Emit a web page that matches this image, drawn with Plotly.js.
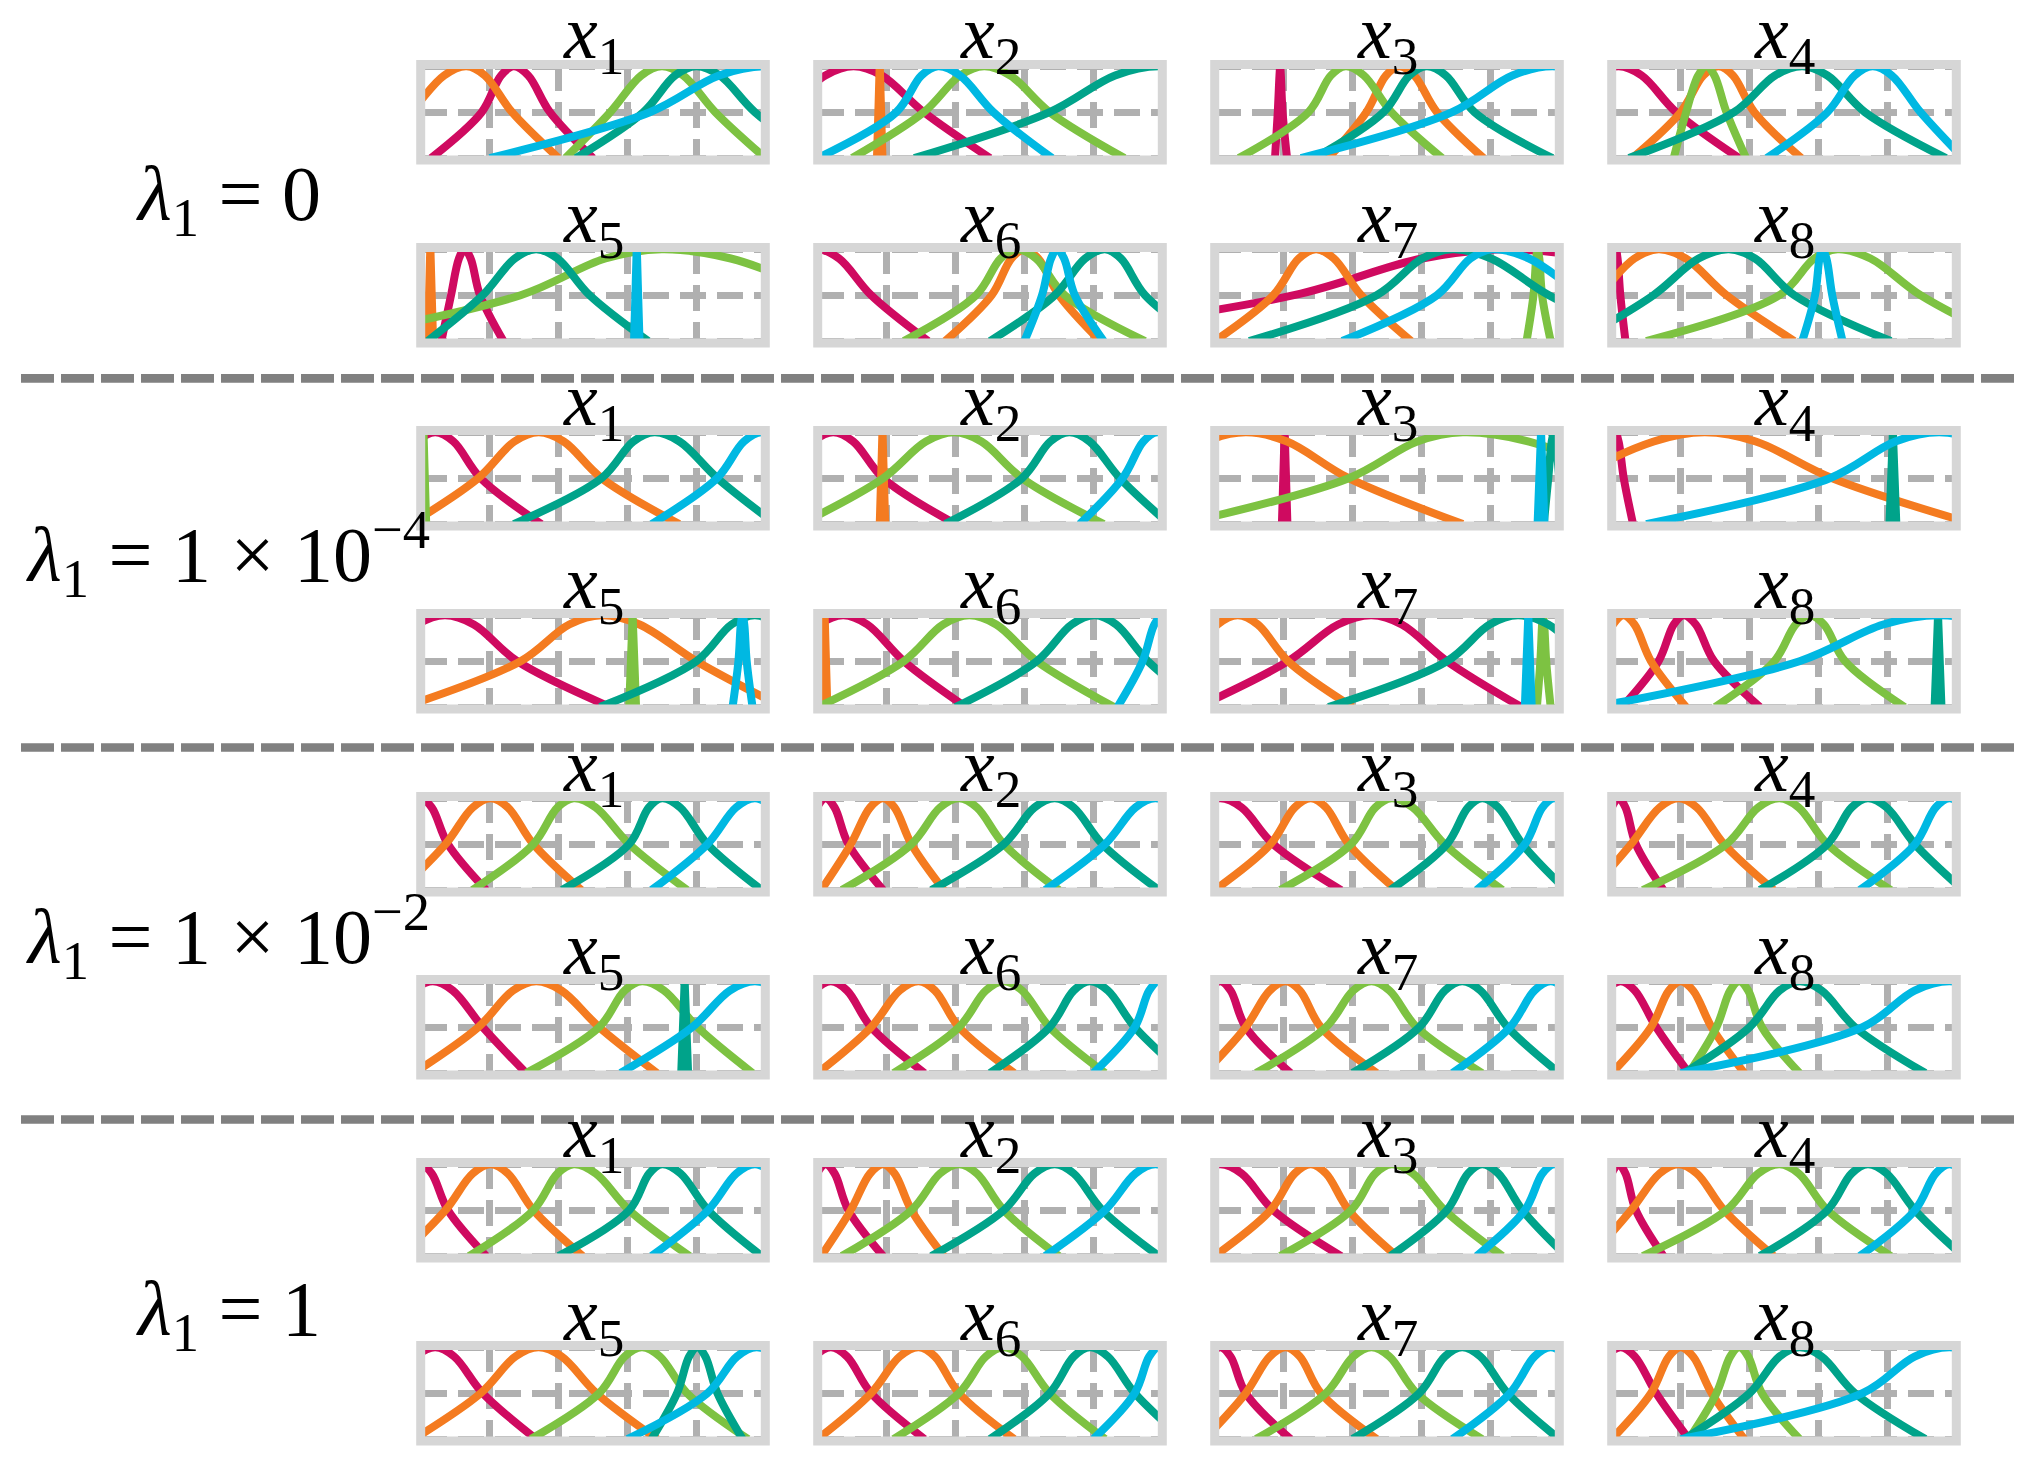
<!DOCTYPE html>
<html>
<head>
<meta charset="utf-8">
<script src="https://cdn.plot.ly/plotly-3.0.1.min.js"></script>
<style>
  html, body { margin: 0; padding: 0; background: #fff; }
  #chart { width: 2042px; height: 1474px; }
</style>
</head>
<body>
<div id="chart"></div>
<script>
// ---------- data ----------
// feature names shown above each panel (x1..x8)
const FEATURES = ['1', '2', '3', '4', '5', '6', '7', '8'];

// one label per block of 8 panels
const GROUP_LABELS = [
  '<i>λ</i><sub>1</sub> = 0',
  '<i>λ</i><sub>1</sub> = 1 × 10<sup>−4</sup>',
  '<i>λ</i><sub>1</sub> = 1 × 10<sup>−2</sup>',
  '<i>λ</i><sub>1</sub> = 1'
];

// membership curves in drawing order: magenta, orange, green, teal, cyan
const CURVE_COLORS = ['#cf0a60', '#f47b20', '#7dc242', '#00a38a', '#00b8e2'];

// each curve is read as the x where it sits at these membership levels
// (left foot, left half, left shoulder, peak, right shoulder, right half, right foot)
const KNOT_LEVELS = [0, 0.5, 0.9, 1, 0.9, 0.5, 0];

// lambda_1 = 0
const lambda0 = [
  [[0.03, 0.177, 0.233, 0.27, 0.312, 0.375, 0.50], [-0.17, -0.03, 0.068, 0.133, 0.186, 0.265, 0.40], [0.42, 0.55, 0.64, 0.70, 0.762, 0.855, 1.0], [0.45, 0.646, 0.738, 0.80, 0.868, 0.97, 1.15], [0.2, 0.665, 0.866, 1.0, 1.134, 1.335, 1.83]],
  [[-0.3, -0.10, 0.022, 0.104, 0.186, 0.308, 0.50], [0.172, 0.176, 0.179, 0.18, 0.181, 0.184, 0.188], [0.10, 0.308, 0.413, 0.483, 0.559, 0.673, 0.89], [0.28, 0.673, 0.863, 0.99, 1.118, 1.31, 1.7], [0.0, 0.228, 0.301, 0.349, 0.413, 0.51, 0.68]],
  [[0.175, 0.183, 0.188, 0.19, 0.192, 0.197, 0.21], [0.33, 0.44, 0.497, 0.535, 0.579, 0.645, 0.78], [0.07, 0.272, 0.337, 0.38, 0.433, 0.513, 0.66], [0.29, 0.49, 0.565, 0.615, 0.671, 0.754, 0.98], [0.25, 0.689, 0.864, 0.98, 1.096, 1.27, 1.76]],
  [[-0.33, -0.15, -0.048, 0.02, 0.087, 0.187, 0.37], [0.06, 0.2, 0.266, 0.31, 0.352, 0.414, 0.55], [0.18, 0.216, 0.251, 0.275, 0.298, 0.333, 0.39], [0.05, 0.355, 0.474, 0.553, 0.626, 0.735, 0.97], [0.45, 0.626, 0.705, 0.757, 0.813, 0.896, 1.02]],
  [[0.06, 0.088, 0.111, 0.127, 0.145, 0.172, 0.24], [0.02, 0.024, 0.027, 0.028, 0.029, 0.032, 0.036], [-0.3, 0.29, 0.536, 0.70, 0.90, 1.2, 1.7], [0.02, 0.18, 0.273, 0.335, 0.397, 0.49, 0.66], [0.619, 0.623, 0.626, 0.627, 0.628, 0.631, 0.635]],
  [[-0.32, -0.155, -0.062, 0.0, 0.062, 0.155, 0.32], [0.37, 0.505, 0.562, 0.60, 0.64, 0.70, 0.82], [0.25, 0.46, 0.531, 0.578, 0.634, 0.717, 0.95], [0.5, 0.688, 0.776, 0.834, 0.88, 0.95, 1.12], [0.60, 0.651, 0.677, 0.695, 0.715, 0.746, 0.83]],
  [[-0.6, 0.23, 0.602, 0.85, 1.098, 1.47, 2.3], [0.0, 0.17, 0.244, 0.294, 0.346, 0.425, 0.57], [0.905, 0.925, 0.933, 0.937, 0.942, 0.95, 0.975], [0.1, 0.47, 0.602, 0.69, 0.802, 0.97, 1.25], [0.37, 0.645, 0.742, 0.806, 0.912, 1.07, 1.3]],
  [[-0.02, 0.0, 0.008, 0.012, 0.017, 0.025, 0.04], [-0.2, -0.04, 0.066, 0.136, 0.215, 0.333, 0.53], [0.1, 0.487, 0.588, 0.655, 0.751, 0.896, 1.15], [-0.1, 0.121, 0.252, 0.34, 0.416, 0.53, 0.81], [0.553, 0.59, 0.603, 0.611, 0.623, 0.64, 0.67]]
];

// lambda_1 = 1e-4
const lambda1e4 = [
  [[-0.27, -0.09, -0.011, 0.042, 0.095, 0.174, 0.35], [-0.03, 0.167, 0.272, 0.342, 0.415, 0.525, 0.75], [0.0, 0.004, 0.007, 0.008, 0.009, 0.012, 0.016], [0.27, 0.525, 0.617, 0.678, 0.751, 0.861, 1.03], [0.67, 0.86, 0.938, 0.99, 1.042, 1.12, 1.3]],
  [[-0.3, -0.1, -0.013, 0.045, 0.103, 0.19, 0.40], [0.18, 0.184, 0.187, 0.188, 0.189, 0.192, 0.196], [-0.05, 0.19, 0.314, 0.396, 0.475, 0.593, 0.83], [0.37, 0.593, 0.675, 0.73, 0.789, 0.877, 1.02], [0.76, 0.885, 0.945, 0.985, 1.031, 1.1, 1.25]],
  [[0.195, 0.199, 0.202, 0.203, 0.204, 0.207, 0.211], [-0.5, -0.2, -0.026, 0.09, 0.21, 0.389, 0.72], [-0.1, 0.389, 0.588, 0.72, 0.912, 1.2, 1.6], [0.955, 0.968, 0.978, 0.985, 0.99, 1.0, 1.015], [0.937, 0.942, 0.946, 0.947, 0.948, 0.952, 0.957]],
  [[-0.06, -0.02, -0.002, 0.01, 0.02, 0.035, 0.062], [-0.25, -0.1, 0.122, 0.27, 0.418, 0.64, 1.05], [], [0.806, 0.811, 0.815, 0.816, 0.817, 0.821, 0.826], [0.1, 0.633, 0.823, 0.95, 1.077, 1.27, 1.8]],
  [[-0.3, -0.13, -0.01, 0.07, 0.154, 0.28, 0.55], [-0.05, 0.29, 0.431, 0.525, 0.635, 0.80, 1.05], [0.605, 0.61, 0.614, 0.615, 0.616, 0.62, 0.625], [0.52, 0.80, 0.902, 0.97, 1.034, 1.13, 1.4], [0.905, 0.922, 0.929, 0.934, 0.939, 0.946, 0.963]],
  [[-0.25, -0.1, 0.004, 0.074, 0.144, 0.25, 0.43], [0.012, 0.016, 0.019, 0.02, 0.021, 0.024, 0.028], [0.0, 0.25, 0.364, 0.44, 0.518, 0.636, 0.86], [0.4, 0.636, 0.737, 0.804, 0.866, 0.958, 1.12], [0.87, 0.943, 0.977, 1.0, 1.024, 1.06, 1.13]],
  [[-0.05, 0.213, 0.358, 0.455, 0.543, 0.674, 0.89], [-0.2, -0.08, 0.008, 0.067, 0.125, 0.213, 0.40], [0.935, 0.945, 0.95, 0.952, 0.956, 0.962, 0.975], [0.33, 0.674, 0.798, 0.88, 0.968, 1.1, 1.35], [0.9, 0.905, 0.909, 0.91, 0.911, 0.915, 0.92]],
  [[0.03, 0.136, 0.18, 0.209, 0.244, 0.297, 0.43], [-0.1, -0.04, 0.004, 0.034, 0.066, 0.114, 0.216], [0.30, 0.472, 0.534, 0.575, 0.616, 0.677, 0.85], [0.937, 0.942, 0.946, 0.947, 0.948, 0.952, 0.957], [-0.05, 0.545, 0.788, 0.95, 1.11, 1.35, 2.0]]
];

// lambda_1 = 1e-2
const lambda1e2 = [
  [[-0.19, -0.08, -0.032, 0.0, 0.032, 0.079, 0.19], [-0.06, 0.072, 0.151, 0.203, 0.253, 0.327, 0.466], [0.15, 0.327, 0.397, 0.444, 0.508, 0.605, 0.773], [0.41, 0.605, 0.662, 0.70, 0.753, 0.832, 0.99], [0.67, 0.832, 0.915, 0.97, 1.022, 1.1, 1.27]],
  [[-0.14, -0.04, -0.002, 0.023, 0.049, 0.089, 0.19], [0.01, 0.096, 0.152, 0.19, 0.223, 0.272, 0.366], [0.07, 0.272, 0.355, 0.41, 0.462, 0.54, 0.70], [0.33, 0.54, 0.629, 0.688, 0.743, 0.826, 0.99], [0.66, 0.834, 0.922, 0.98, 1.04, 1.13, 1.3]],
  [[-0.3, -0.14, -0.046, 0.016, 0.078, 0.17, 0.367], [0.0, 0.162, 0.232, 0.279, 0.323, 0.389, 0.528], [0.19, 0.396, 0.466, 0.513, 0.575, 0.667, 0.835], [0.51, 0.674, 0.735, 0.776, 0.823, 0.893, 1.02], [0.76, 0.90, 0.951, 0.985, 1.019, 1.07, 1.2]],
  [[-0.11, -0.03, 0.0, 0.02, 0.04, 0.07, 0.15], [-0.06, 0.056, 0.139, 0.194, 0.247, 0.326, 0.47], [0.09, 0.333, 0.425, 0.487, 0.543, 0.626, 0.81], [0.43, 0.626, 0.696, 0.743, 0.798, 0.88, 1.02], [0.72, 0.88, 0.94, 0.98, 1.02, 1.08, 1.24]],
  [[-0.24, -0.11, -0.023, 0.035, 0.093, 0.18, 0.306], [-0.02, 0.167, 0.268, 0.335, 0.408, 0.518, 0.686], [0.306, 0.518, 0.592, 0.642, 0.706, 0.803, 0.963], [0.756, 0.761, 0.765, 0.766, 0.767, 0.771, 0.776], [0.58, 0.788, 0.897, 0.97, 1.042, 1.15, 1.36]],
  [[-0.23, -0.08, -0.009, 0.038, 0.085, 0.155, 0.31], [0.0, 0.155, 0.238, 0.293, 0.34, 0.41, 0.57], [0.22, 0.41, 0.488, 0.54, 0.593, 0.673, 0.834], [0.5, 0.673, 0.743, 0.79, 0.842, 0.92, 1.06], [0.80, 0.92, 0.962, 0.99, 1.018, 1.06, 1.18]],
  [[-0.19, -0.06, -0.014, 0.016, 0.046, 0.09, 0.22], [-0.03, 0.09, 0.16, 0.206, 0.247, 0.308, 0.47], [0.12, 0.323, 0.402, 0.455, 0.507, 0.586, 0.776], [0.4, 0.594, 0.668, 0.718, 0.771, 0.85, 1.0], [0.69, 0.857, 0.928, 0.975, 1.021, 1.09, 1.26]],
  [[-0.17, -0.08, -0.016, 0.026, 0.067, 0.129, 0.224], [0.0, 0.114, 0.166, 0.20, 0.236, 0.29, 0.385], [0.224, 0.304, 0.344, 0.37, 0.396, 0.436, 0.545], [0.21, 0.40, 0.487, 0.545, 0.609, 0.706, 0.91], [0.2, 0.728, 0.879, 0.98, 1.08, 1.23, 1.76]]
];

// lambda_1 = 1
const lambda1 = [
  [[-0.19, -0.08, -0.032, 0.0, 0.032, 0.079, 0.19], [-0.06, 0.072, 0.151, 0.203, 0.253, 0.327, 0.47], [0.14, 0.327, 0.397, 0.444, 0.508, 0.605, 0.78], [0.40, 0.605, 0.663, 0.70, 0.754, 0.834, 0.99], [0.67, 0.834, 0.916, 0.97, 1.022, 1.1, 1.27]],
  [[-0.14, -0.04, -0.002, 0.023, 0.049, 0.089, 0.19], [0.01, 0.096, 0.152, 0.19, 0.223, 0.272, 0.366], [0.07, 0.272, 0.355, 0.41, 0.462, 0.54, 0.70], [0.33, 0.54, 0.629, 0.688, 0.743, 0.826, 0.99], [0.66, 0.834, 0.922, 0.98, 1.04, 1.13, 1.3]],
  [[-0.3, -0.14, -0.046, 0.016, 0.078, 0.17, 0.367], [0.0, 0.162, 0.232, 0.279, 0.323, 0.389, 0.528], [0.19, 0.396, 0.466, 0.513, 0.575, 0.667, 0.835], [0.51, 0.674, 0.735, 0.776, 0.823, 0.893, 1.02], [0.76, 0.90, 0.951, 0.985, 1.019, 1.07, 1.2]],
  [[-0.11, -0.03, 0.0, 0.02, 0.04, 0.07, 0.15], [-0.06, 0.056, 0.139, 0.194, 0.247, 0.326, 0.47], [0.09, 0.333, 0.425, 0.487, 0.543, 0.626, 0.81], [0.43, 0.626, 0.696, 0.743, 0.798, 0.88, 1.02], [0.72, 0.88, 0.94, 0.98, 1.02, 1.08, 1.24]],
  [[-0.23, -0.1, -0.015, 0.042, 0.097, 0.18, 0.335], [-0.02, 0.174, 0.275, 0.342, 0.409, 0.51, 0.686], [0.32, 0.518, 0.592, 0.642, 0.694, 0.773, 0.95], [0.67, 0.744, 0.779, 0.803, 0.826, 0.861, 0.934], [0.6, 0.832, 0.918, 0.975, 1.033, 1.12, 1.33]],
  [[-0.23, -0.08, -0.009, 0.038, 0.085, 0.155, 0.31], [0.0, 0.155, 0.238, 0.293, 0.34, 0.41, 0.57], [0.22, 0.41, 0.488, 0.54, 0.593, 0.673, 0.834], [0.5, 0.673, 0.743, 0.79, 0.842, 0.92, 1.06], [0.80, 0.92, 0.962, 0.99, 1.018, 1.06, 1.18]],
  [[-0.19, -0.06, -0.014, 0.016, 0.046, 0.09, 0.22], [-0.03, 0.09, 0.16, 0.206, 0.247, 0.308, 0.47], [0.12, 0.323, 0.402, 0.455, 0.507, 0.586, 0.776], [0.4, 0.594, 0.668, 0.718, 0.771, 0.85, 1.0], [0.69, 0.857, 0.928, 0.975, 1.021, 1.09, 1.26]],
  [[-0.17, -0.08, -0.016, 0.026, 0.067, 0.129, 0.224], [0.0, 0.114, 0.166, 0.20, 0.236, 0.29, 0.385], [0.224, 0.304, 0.344, 0.37, 0.396, 0.436, 0.545], [0.21, 0.40, 0.487, 0.545, 0.609, 0.706, 0.91], [0.2, 0.728, 0.879, 0.98, 1.08, 1.23, 1.76]]
];

const GROUPS = [lambda0, lambda1e4, lambda1e2, lambda1];

// ---------- geometry (pixels in the 2042 x 1474 page) ----------
const W = 2042, H = 1474;
const COL_LEFT = 420.7, COL_STEP = 397, AX_W = 344.6;
const ROW_TOP = 64.5, ROW_STEP = 183, AX_H = 95.4;
const LABEL_X = 228;
const LABEL_BASE = [222, 583, 965, 1337];     // baseline of each left label
const SEPARATORS = [378.3, 747.5, 1119.5];     // dashed rules between blocks
const FONT = 'Liberation Serif, Times New Roman, serif';

const px2x = v => v / W;
const px2y = v => 1 - v / H;

const data = [];
const layout = {
  width: W, height: H,
  margin: { l: 0, r: 0, t: 0, b: 0 },
  paper_bgcolor: '#ffffff',
  plot_bgcolor: '#ffffff',
  showlegend: false,
  shapes: [],
  annotations: []
};

GROUPS.forEach((panels, g) => {
  panels.forEach((curves, p) => {
    const k = g * 8 + p + 1;
    const sfx = k === 1 ? '' : String(k);
    const row = g * 2 + (p >= 4 ? 1 : 0);
    const col = p % 4;
    const left = COL_LEFT + col * COL_STEP;
    const top = ROW_TOP + row * ROW_STEP;

    layout['xaxis' + sfx] = {
      domain: [px2x(left), px2x(left + AX_W)],
      anchor: 'y' + sfx,
      range: [0, 1],
      tickvals: [0.2, 0.4, 0.6, 0.8],
      showticklabels: false, ticks: '',
      showgrid: true, gridcolor: '#b0b0b0', gridwidth: 7, griddash: '26px,11px',
      zeroline: false, showline: false, fixedrange: true
    };
    layout['yaxis' + sfx] = {
      domain: [px2y(top + AX_H), px2y(top)],
      anchor: 'x' + sfx,
      range: [-0.02, 1.02],
      tickvals: [0, 0.5, 1],
      showticklabels: false, ticks: '',
      showgrid: true, gridcolor: '#b0b0b0', gridwidth: 7, griddash: '26px,11px',
      zeroline: false, showline: false, fixedrange: true
    };

    curves.forEach((knots, c) => {
      if (!knots.length) return;
      data.push({
        type: 'scatter', mode: 'lines',
        x: knots, y: KNOT_LEVELS,
        xaxis: 'x' + sfx, yaxis: 'y' + sfx,
        line: { color: CURVE_COLORS[c], width: 8, shape: 'spline', smoothing: 1 },
        hoverinfo: 'skip', showlegend: false
      });
    });

    // thick light-grey frame over the curves
    layout.shapes.push({
      type: 'rect', xref: 'x' + sfx + ' domain', yref: 'y' + sfx + ' domain',
      x0: 0, x1: 1, y0: 0, y1: 1,
      line: { color: '#d6d6d6', width: 9 }, fillcolor: 'rgba(0,0,0,0)', layer: 'above'
    });

    layout.annotations.push({
      xref: 'paper', yref: 'paper',
      x: px2x(left + AX_W / 2), y: px2y(top - 3.5 + 27.5),
      xanchor: 'center', yanchor: 'bottom', showarrow: false,
      text: '<i>x</i><sub>' + FEATURES[p] + '</sub>',
      font: { family: FONT, size: 76, color: '#000' }
    });
  });

  layout.annotations.push({
    xref: 'paper', yref: 'paper',
    x: px2x(LABEL_X), y: px2y(LABEL_BASE[g] + 28),
    xanchor: 'center', yanchor: 'bottom', showarrow: false,
    text: GROUP_LABELS[g],
    font: { family: FONT, size: 78, color: '#000' }
  });
});

SEPARATORS.forEach(yp => {
  layout.shapes.push({
    type: 'line', xref: 'paper', yref: 'paper',
    x0: px2x(21), x1: px2x(2016), y0: px2y(yp), y1: px2y(yp),
    line: { color: '#808080', width: 8.7, dash: '33px,7px' }, layer: 'above'
  });
});

Plotly.newPlot('chart', data, layout, { staticPlot: true, displayModeBar: false });
</script>
</body>
</html>
